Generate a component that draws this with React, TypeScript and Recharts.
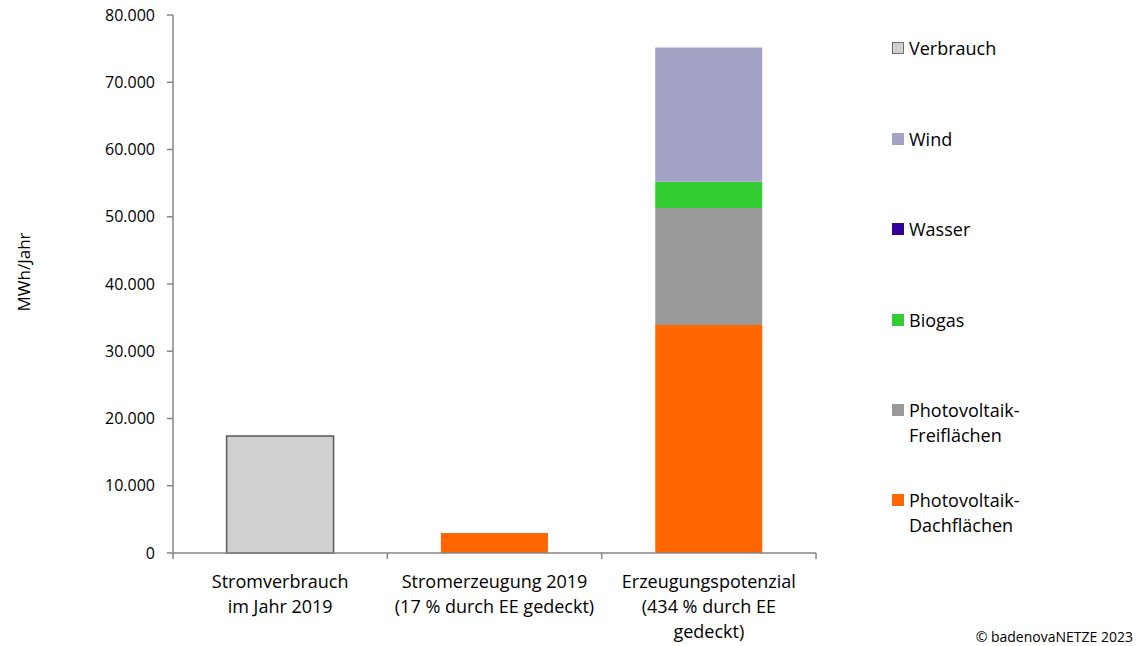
import React from "react";
import { BarChart, Bar, XAxis, YAxis } from "recharts";

const categories: string[][] = [
  ["Stromverbrauch", "im Jahr 2019"],
  ["Stromerzeugung 2019", "(17 % durch EE gedeckt)"],
  ["Erzeugungspotenzial", "(434 % durch EE", "gedeckt)"],
];

const verbrauch: (number | null)[] = [17380, null, null];
const pvDach: (number | null)[] = [null, 2960, 33910];
const pvFrei: (number | null)[] = [null, null, 17380];
const wasser: (number | null)[] = [null, null, null];
const biogas: (number | null)[] = [null, null, 3910];
const wind: (number | null)[] = [null, null, 19950];

const yTicks = [0, 10000, 20000, 30000, 40000, 50000, 60000, 70000, 80000];

const legendItems = [
  { name: ["Verbrauch"], color: "#d0d0d0", border: "#6e6e6e" },
  { name: ["Wind"], color: "#a3a3c6" },
  { name: ["Wasser"], color: "#330099" },
  { name: ["Biogas"], color: "#33cc33" },
  { name: ["Photovoltaik-", "Freiflächen"], color: "#999999" },
  { name: ["Photovoltaik-", "Dachflächen"], color: "#ff6600" },
];

const data = categories.map((c, i) => ({
  name: c.join(" "),
  verbrauch: verbrauch[i],
  pvDach: pvDach[i],
  pvFrei: pvFrei[i],
  wasser: wasser[i],
  biogas: biogas[i],
  wind: wind[i],
}));

const FONT = "'Open Sans', 'Noto Sans', sans-serif";
const AXIS = "#868686";
const TEXT = "#000000";

const fmt = (v: number) =>
  String(Math.round(v)).replace(/\B(?=(\d{3})+(?!\d))/g, ".");

const CatTick = (props: any) => {
  const { x, y, index, width, visibleTicksCount } = props;
  const count = visibleTicksCount || categories.length;
  const band = (width || 643) / count;
  const axisY = y - 6;
  const lines = categories[index] || [];
  return (
    <g>
      <line x1={x - band / 2} y1={axisY} x2={x - band / 2} y2={axisY + 6} stroke={AXIS} strokeWidth={1.5} />
      {index === count - 1 && (
        <line x1={x + band / 2} y1={axisY} x2={x + band / 2} y2={axisY + 6} stroke={AXIS} strokeWidth={1.5} />
      )}
      <text x={x} y={y + 29} textAnchor="middle" fontFamily={FONT} fontSize={18} fill={TEXT}>
        {lines.map((l: string, i: number) => (
          <tspan key={i} x={x} dy={i === 0 ? 0 : 25}>
            {l}
          </tspan>
        ))}
      </text>
    </g>
  );
};

const YLabel = (props: any) => {
  const vb = props.viewBox || { y: 15, height: 538 };
  const cy = vb.y + vb.height / 2 - 12;
  return (
    <text
      x={23}
      y={cy}
      transform={`rotate(-90, 23, ${cy})`}
      textAnchor="middle"
      dominantBaseline="central"
      fontFamily={FONT}
      fontSize={17}
      fill={TEXT}
    >
      MWh/Jahr
    </text>
  );
};

export default function App() {
  const centers = [48, 139, 229, 320, 410, 500];
  return (
    <div style={{ position: "absolute", left: 0, top: 0, width: 1137, height: 646, background: "#fff", fontFamily: FONT }}>
      <BarChart
        width={1137}
        height={646}
        data={data}
        margin={{ top: 15, right: 321, bottom: 0, left: 0 }}
        barCategoryGap="25%"
      >
        <XAxis
          dataKey="name"
          height={93}
          axisLine={{ stroke: AXIS, strokeWidth: 1.5 }}
          tickLine={false}
          tickSize={6}
          tickMargin={0}
          interval={0}
          tick={<CatTick />}
        />
        <XAxis xAxisId="top" dataKey="name" orientation="top" height={0} tick={false} tickLine={false} axisLine={{ stroke: AXIS, strokeWidth: 1.5 }} />
        <YAxis
          width={173}
          domain={[0, 80000]}
          ticks={yTicks}
          type="number"
          tickFormatter={fmt}
          tickSize={6}
          tickMargin={12}
          axisLine={{ stroke: AXIS, strokeWidth: 1.5 }}
          tickLine={{ stroke: AXIS, strokeWidth: 1.5 }}
          tick={{ fontFamily: FONT, fontSize: 16, fill: TEXT }}
          label={<YLabel />}
        />
        <YAxis yAxisId="r" orientation="right" width={0} domain={[0, 80000]} type="number" tick={false} tickLine={false} axisLine={{ stroke: AXIS, strokeWidth: 1.5 }} />
        <Bar dataKey="verbrauch" stackId="a" fill="#d0d0d0" stroke="#595959" strokeWidth={1.5} isAnimationActive={false} />
        <Bar dataKey="pvDach" stackId="a" fill="#ff6600" isAnimationActive={false} />
        <Bar dataKey="pvFrei" stackId="a" fill="#999999" isAnimationActive={false} />
        <Bar dataKey="wasser" stackId="a" fill="#330099" isAnimationActive={false} />
        <Bar dataKey="biogas" stackId="a" fill="#33cc33" isAnimationActive={false} />
        <Bar dataKey="wind" stackId="a" fill="#a3a3c6" isAnimationActive={false} />
      </BarChart>
      {legendItems.map((it, i) => (
        <div key={i} style={{ position: "absolute", left: 0, top: centers[i] - 12.5 }}>
          <div
            style={{
              position: "absolute",
              left: 892,
              top: 6.5,
              width: it.border ? 10 : 12,
              height: it.border ? 10 : 12,
              background: it.color,
              border: it.border ? `1px solid ${it.border}` : "none",
            }}
          />
          <div style={{ position: "absolute", left: 909, top: 0, fontSize: 18, lineHeight: "25px", color: TEXT, whiteSpace: "nowrap" }}>
            {it.name.map((l, j) => (
              <div key={j}>{l}</div>
            ))}
          </div>
        </div>
      ))}
      <div style={{ position: "absolute", right: 4, top: 627, fontSize: 14, lineHeight: "20px", color: TEXT, whiteSpace: "nowrap" }}>
        © badenovaNETZE 2023
      </div>
    </div>
  );
}
